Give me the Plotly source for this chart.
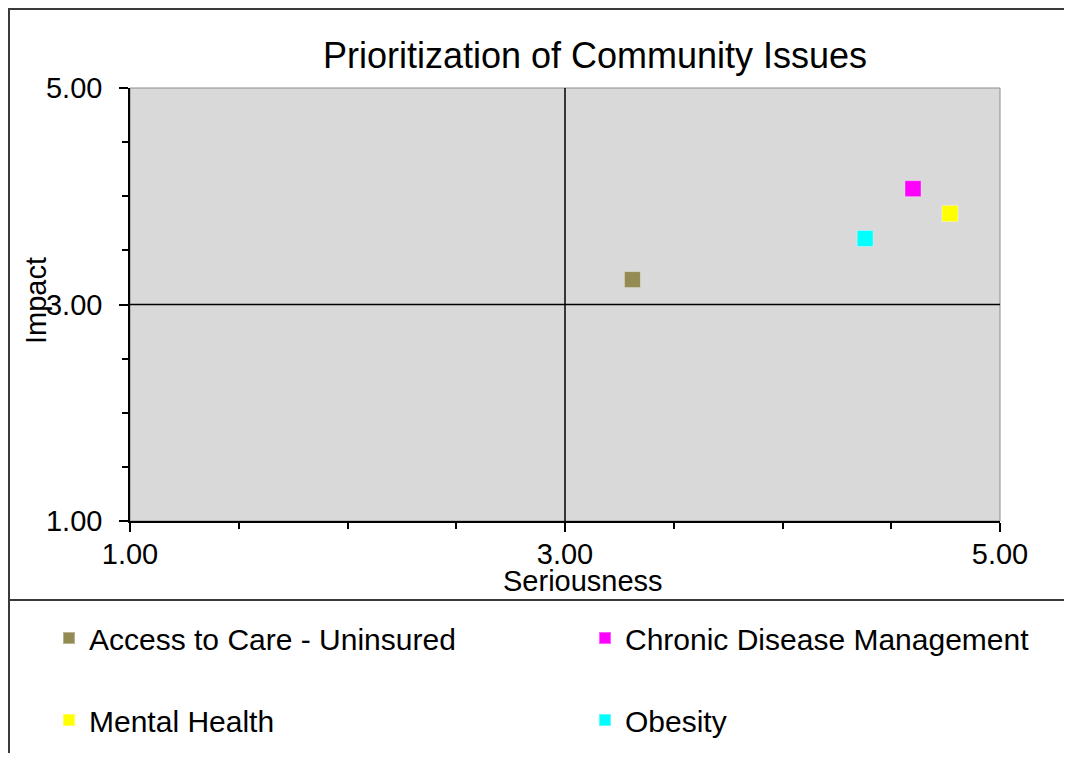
import plotly.graph_objects as go

# ---- data ----
issues = ["Access to Care - Uninsured", "Chronic Disease Management", "Mental Health", "Obesity"]
seriousness = [3.31, 4.60, 4.77, 4.38]
impact = [3.23, 4.07, 3.84, 3.61]
colors = ["#948A54", "#FF00FF", "#FFFF00", "#00FFFF"]
axis_range = [1.0, 5.0]
major_ticks = [1.0, 3.0, 5.0]
midpoint = 3.0

# page is shown with the browser's 8px body margin, so the figure is drawn 8px smaller
OFF = 8
W, H = 1072 - 2 * OFF, 761 - 2 * OFF
# plot area in page pixels: x 130..1000, y 88..521
ML, MT = 130 - OFF, 88 - OFF
PW, PH = 870, 433
MR, MB = W - ML - PW, H - MT - PH
FONT = "Liberation Sans, Arial, sans-serif"


def px_x(page_px):
    return (page_px - OFF - ML) / PW


def px_y(page_py):
    return (MT + PH - (page_py - OFF)) / PH


fig = go.Figure()
legend_names = ["legend", "legend2", "legend3", "legend4"]
for name, sx, iy, col, lg in zip(issues, seriousness, impact, colors, legend_names):
    fig.add_trace(go.Scatter(
        x=[sx], y=[iy], mode="markers", name=name,
        marker=dict(symbol="square", size=16, color=col,
                    line=dict(color="rgba(255,255,255,0.35)", width=1)),
        legend=lg, hoverinfo="name+x+y",
    ))

# quadrant lines at the midpoint
fig.add_shape(type="line", xref="x", yref="y", x0=midpoint, x1=midpoint,
              y0=axis_range[0], y1=axis_range[1], line=dict(color="black", width=1.5))
fig.add_shape(type="line", xref="x", yref="y", x0=axis_range[0], x1=axis_range[1],
              y0=midpoint, y1=midpoint, line=dict(color="black", width=1.5))
# thin gray border of plot area (top/right)
fig.add_shape(type="rect", xref="paper", yref="paper", x0=0, x1=1, y0=0, y1=1,
              line=dict(color="#8C8C8C", width=1), layer="below")

# chart frame (top, left, separator above legend)
frame = dict(color="#3A3A3A", width=2)
fig.add_shape(type="line", xref="paper", yref="paper", x0=px_x(9), x1=px_x(1090),
              y0=px_y(9), y1=px_y(9), line=frame)
fig.add_shape(type="line", xref="paper", yref="paper", x0=px_x(9), x1=px_x(9),
              y0=px_y(8), y1=px_y(790), line=frame)
fig.add_shape(type="line", xref="paper", yref="paper", x0=px_x(9), x1=px_x(1090),
              y0=px_y(600), y1=px_y(600), line=frame)

axis_common = dict(
    range=axis_range, tickvals=major_ticks, tickformat=".2f",
    ticks="outside", ticklen=9, tickwidth=1.5, tickcolor="black",
    showgrid=False, zeroline=False, showline=True, linecolor="black", linewidth=1.5,
    tickfont=dict(family=FONT, size=29, color="black"),
    minor=dict(dtick=0.5, tick0=1, ticks="outside", ticklen=6, tickwidth=1.5,
               tickcolor="black", showgrid=False),
    fixedrange=True, automargin=False,
)
fig.update_xaxes(**axis_common, ticklabelstandoff=-3)
fig.update_yaxes(**axis_common, ticklabelstandoff=11)

fig.add_annotation(text="Seriousness", xref="paper", yref="paper",
                   x=px_x(583), y=px_y(581), showarrow=False,
                   font=dict(family=FONT, size=29, color="black"),
                   xanchor="center", yanchor="middle")
fig.add_annotation(text="Impact", xref="paper", yref="paper",
                   x=px_x(36), y=px_y(301), showarrow=False, textangle=-90,
                   font=dict(family=FONT, size=29, color="black"),
                   xanchor="center", yanchor="middle")

legend_style = dict(xref="container", yref="container", xanchor="left", yanchor="top",
                    bgcolor="rgba(0,0,0,0)", borderwidth=0, itemsizing="constant",
                    font=dict(family=FONT, size=30, color="black"))
legend_pos = [(49, 612), (585, 612), (49, 694), (585, 694)]  # page pixels
legend_layout = {}
for lg, (lx, ly) in zip(legend_names, legend_pos):
    legend_layout[lg] = dict(x=(lx - OFF) / W, y=1 - (ly - OFF) / H, **legend_style)

fig.update_layout(
    width=W, height=H,
    margin=dict(l=ML, r=MR, t=MT, b=MB, autoexpand=False),
    paper_bgcolor="white", plot_bgcolor="#D9D9D9",
    title=dict(text="Prioritization of Community Issues", x=(595 - OFF) / W, xanchor="center",
               xref="container", y=1 - (55 - OFF) / H, yanchor="middle", yref="container",
               font=dict(family=FONT, size=36, color="black")),
    showlegend=True,
    **legend_layout,
)

fig.write_html("out.html")
